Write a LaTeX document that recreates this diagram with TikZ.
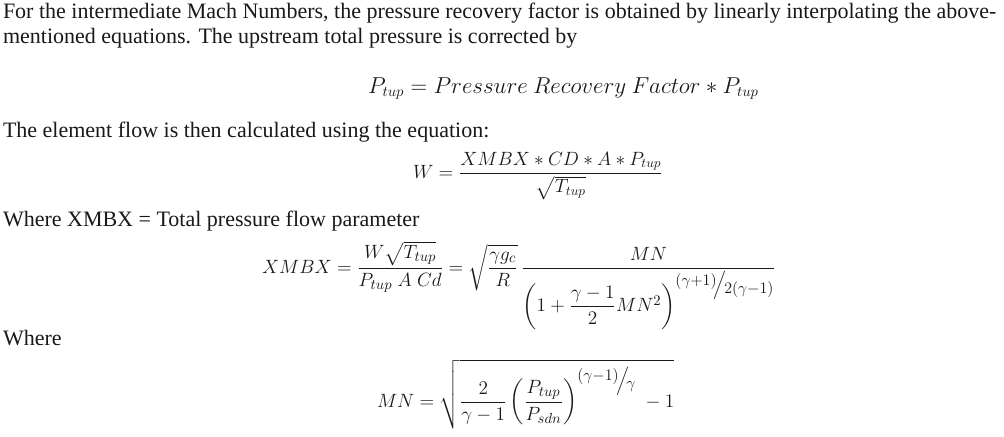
\documentclass[tikz,border=0pt]{standalone}
\usepackage{amsmath}
\usepackage{fontspec}
\setmainfont{Liberation Serif}
\newcommand{\slexp}[2]{\mbox{\fontsize{11.5pt}{12pt}\selectfont$\raisebox{0.55ex}{$#1$}\!\Big/\!\raisebox{-0.55ex}{$#2$}$}}
\tikzset{
  txt/.style={anchor=base west, inner sep=0pt, outer sep=0pt, text=black!90, font=\fontsize{16.5pt}{19pt}\selectfont},
  eqa/.style={anchor=base west, inner sep=0pt, outer sep=0pt, text=black!90, font=\fontsize{16pt}{19pt}\selectfont},
  eqb/.style={anchor=base west, inner sep=0pt, outer sep=0pt, text=black!90, font=\fontsize{15pt}{18pt}\selectfont},
  eqc/.style={anchor=base west, inner sep=0pt, outer sep=0pt, text=black!90, font=\fontsize{14pt}{17pt}\selectfont}
}
\begin{document}
\begin{tikzpicture}[x=0.75pt,y=-0.75pt]
\useasboundingbox[fill=white] (0,0) rectangle (1004,436);
\node[txt] (l1) at (3,18) {For the intermediate Mach Numbers, the pressure recovery factor is obtained by linearly interpolating the above-};
\node[txt] (l2) at (3,43) {mentioned equations. The upstream total pressure is corrected by};
\node[eqa] (e1) at (368,93) {$P_{tup} = Pressure\ Recovery\ Factor \ast P_{tup}$};
\node[txt] (l3) at (3,137) {The element flow is then calculated using the equation:};
\node[eqc] (e2) at (413,178) {$W = \dfrac{XMBX \ast CD \ast A \ast P_{tup}}{\sqrt{T_{tup}}}$};
\node[txt] (l4) at (3,226) {Where XMBX = Total pressure flow parameter};
\node[eqb] (e3) at (262,273) {$XMBX = \dfrac{W\sqrt{T_{tup}}}{P_{tup}\;A\;Cd} = \sqrt{\dfrac{\gamma g_c}{R}}\,\dfrac{MN}{\left(1+\dfrac{\gamma-1}{2}MN^2\right)^{\slexp{(\gamma{+}1)}{2(\gamma{-}1)}}}$};
\node[txt] (l5) at (3,345) {Where};
\node[eqb] (e4) at (377,407) {$MN = \sqrt{\dfrac{2}{\gamma-1}\left(\dfrac{P_{tup}}{P_{sdn}}\right)^{\slexp{(\gamma{-}1)}{\gamma}}\;-1}$};
\end{tikzpicture}
\end{document}
